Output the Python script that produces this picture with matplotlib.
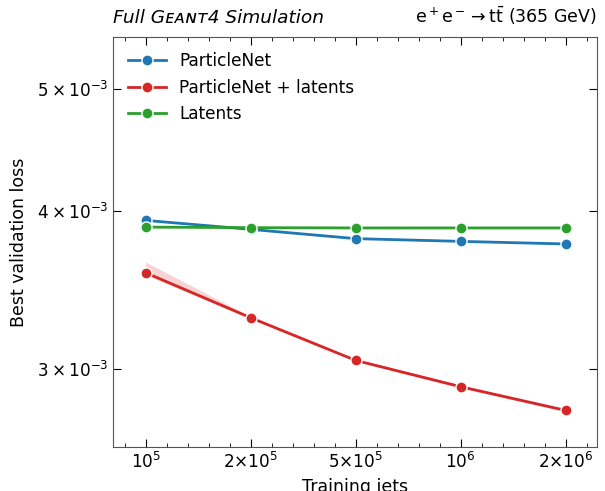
import matplotlib
matplotlib.use("Agg")
import matplotlib.pyplot as plt
from matplotlib.ticker import FixedLocator, MultipleLocator, NullLocator, FixedFormatter
import numpy as np

x_labels = [r"$10^5$", r"$2{\times}10^5$", r"$5{\times}10^5$", r"$10^6$", r"$2{\times}10^6$"]
x_pos = [0, 1, 2, 3, 4]

particlenet = [3.934e-3, 3.870e-3, 3.805e-3, 3.786e-3, 3.768e-3]
pn_latents = [3.575e-3, 3.293e-3, 3.046e-3, 2.903e-3, 2.780e-3]
pn_latents_lo = [3.560e-3, 3.285e-3, 3.040e-3, 2.895e-3, 2.772e-3]
pn_latents_hi = [3.645e-3, 3.300e-3, 3.052e-3, 2.906e-3, 2.783e-3]
latents = [3.886e-3, 3.882e-3, 3.880e-3, 3.880e-3, 3.880e-3]

y_ticks = [3e-3, 4e-3, 5e-3]
y_ticklabels = [r"$3\times10^{-3}$", r"$4\times10^{-3}$", r"$5\times10^{-3}$"]

blue = "#1f77b4"
red = "#d62728"
green = "#2ca02c"

fig = plt.figure(figsize=(6.05, 4.91), dpi=100)
ax = fig.add_axes([0.187, 0.0896, 0.80, 0.835])

ax.fill_between(x_pos, pn_latents_lo, pn_latents_hi, color=red, alpha=0.2, lw=0)
kw = dict(lw=2, marker="o", ms=8, mec="white", mew=1)
ax.plot(x_pos, particlenet, color=blue, label="ParticleNet", **kw)
ax.plot(x_pos, pn_latents, color=red, label="ParticleNet + latents", **kw)
ax.plot(x_pos, latents, color=green, label="Latents", **kw)

ax.set_yscale("log")
ax.set_ylim(2.6e-3, 5.5e-3)
ax.set_xlim(-0.31, 4.3)
ax.yaxis.set_major_locator(FixedLocator(y_ticks))
ax.yaxis.set_major_formatter(FixedFormatter(y_ticklabels))
ax.yaxis.set_minor_locator(NullLocator())
ax.xaxis.set_major_locator(FixedLocator(x_pos))
ax.xaxis.set_major_formatter(FixedFormatter(x_labels))
ax.xaxis.set_minor_locator(MultipleLocator(0.2))

ax.tick_params(which="both", direction="in", top=True, right=True, labelsize=12.2)
ax.tick_params(which="major", length=6)
ax.tick_params(which="minor", length=3)
for s in ax.spines.values():
    s.set_color("#555555")

ax.set_xlabel("Training jets", fontsize=12.5, labelpad=4)
ax.set_ylabel("Best validation loss", fontsize=12.5, labelpad=6)

ax.text(0.0, 1.025, "Full Gᴇᴀɴᴛ4 Simulation", transform=ax.transAxes, ha="left", va="bottom",
        fontsize=13.3, style="italic")
ax.text(1.0, 1.025, r"$\mathrm{e^+e^-\rightarrow t\bar{t}}$ (365 GeV)", transform=ax.transAxes,
        ha="right", va="bottom", fontsize=12.5)

ax.legend(loc="upper left", frameon=False, fontsize=12.2, handlelength=2.2, borderaxespad=0.5)

fig.savefig("out.png", dpi=100)
